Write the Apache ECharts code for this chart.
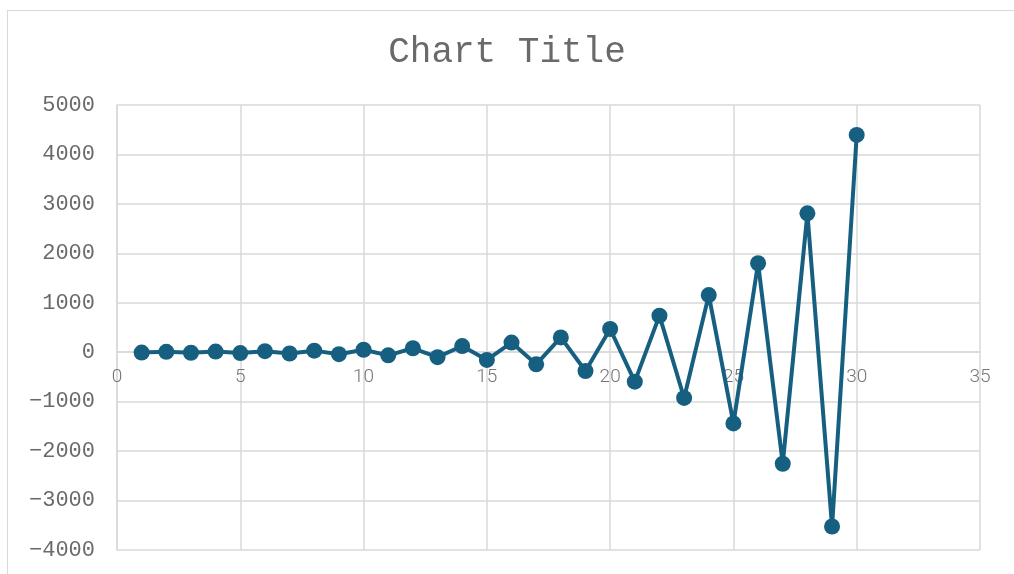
<!DOCTYPE html>
<html>
<head>
<meta charset="utf-8">
<script src="https://cdn.jsdelivr.net/npm/echarts@6/dist/echarts.min.js"></script>
<style>
  html, body { margin: 0; padding: 0; background: #ffffff; }
  #frame {
    position: absolute; left: 7px; top: 10px; width: 1020px; height: 600px;
    border: 1px solid #d9d9d9; box-sizing: border-box;
  }
  #chart { position: absolute; left: 0; top: 0; width: 1014px; height: 574px; }
</style>
</head>
<body>
<div id="frame"></div>
<div id="chart"></div>
<script>
// x positions and measured values of the series
const xValues = [1, 2, 3, 4, 5, 6, 7, 8, 9, 10, 11, 12, 13, 14, 15,
                 16, 17, 18, 19, 20, 21, 22, 23, 24, 25, 26, 27, 28, 29, 30];
const yValues = [-7, 8, -11, 13, -17, 21, -26, 32, -40, 50, -63, 80, -100, 125, -155,
                 195, -245, 300, -380, 470, -595, 740, -925, 1155, -1440, 1800, -2255, 2810, -3525, 4395];
const titleText = 'Chart Title';

const Y_MIN = -4000, Y_MAX = 5000;
const GRID = { left: 117, right: 34, top: 105, bottom: 24 };
const CHART_H = 574;

const points = xValues.map((x, i) => [x, yValues[i]]);

// the horizontal axis crosses the vertical one at y = 0
const plotH = CHART_H - GRID.top - GRID.bottom;
const zeroFromBottom = plotH * (0 - Y_MIN) / (Y_MAX - Y_MIN);

const chart = echarts.init(document.getElementById('chart'), null, { renderer: 'canvas' });
chart.setOption({
  animation: false,
  backgroundColor: 'transparent',
  title: {
    text: titleText,
    left: 'center',
    top: 29,
    textStyle: {
      fontFamily: 'Liberation Mono',
      fontWeight: 'normal',
      fontSize: 36,
      color: '#6a6a6a'
    }
  },
  grid: Object.assign({ containLabel: false, outerBoundsMode: 'none' }, GRID),
  xAxis: {
    type: 'value',
    min: 0, max: 35, interval: 5,
    offset: -zeroFromBottom,
    axisLine: { show: true, onZero: false, lineStyle: { color: '#d9d9d9', width: 1.5 } },
    axisTick: { show: false },
    axisLabel: {
      margin: 16,
      fontFamily: 'Roboto',
      fontWeight: 300,
      fontSize: 19,
      color: '#757575'
    },
    splitLine: { show: true, lineStyle: { color: '#d9d9d9', width: 1.5 } }
  },
  yAxis: {
    type: 'value',
    min: Y_MIN, max: Y_MAX, interval: 1000,
    axisLine: { show: true, onZero: false, lineStyle: { color: '#d9d9d9', width: 1.5 } },
    axisTick: { show: false },
    axisLabel: {
      margin: 22,
      fontFamily: 'Liberation Mono',
      fontSize: 22,
      color: '#6a6a6a',
      formatter: v => (v < 0 ? '\u2212' + Math.abs(v) : String(v))
    },
    splitLine: { show: true, lineStyle: { color: '#d9d9d9', width: 1.5 } }
  },
  series: [{
    type: 'line',
    data: points,
    symbol: 'circle',
    symbolSize: 16,
    lineStyle: { color: '#165f80', width: 4 },
    itemStyle: { color: '#165f80' },
    z: 5
  }]
});
</script>
</body>
</html>
